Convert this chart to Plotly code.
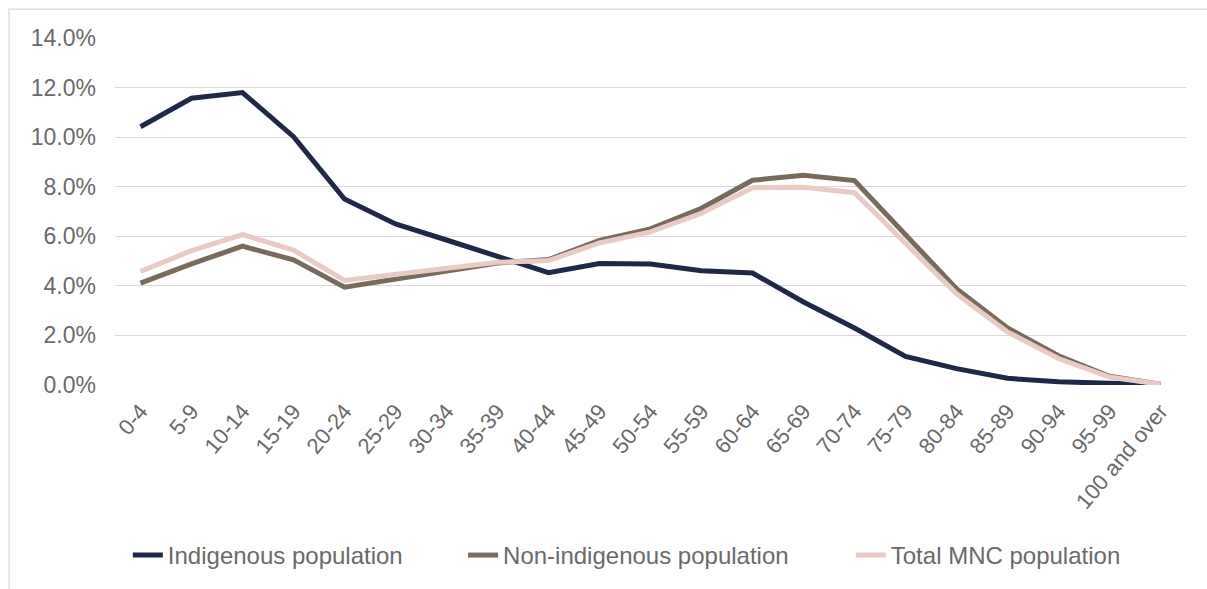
import plotly.graph_objects as go

age_groups = ["0-4", "5-9", "10-14", "15-19", "20-24", "25-29", "30-34", "35-39",
              "40-44", "45-49", "50-54", "55-59", "60-64", "65-69", "70-74", "75-79",
              "80-84", "85-89", "90-94", "95-99", "100 and over"]

indigenous = [10.42, 11.57, 11.80, 10.02, 7.50, 6.50, 5.85, 5.17, 4.53, 4.90, 4.88,
              4.61, 4.52, 3.35, 2.30, 1.15, 0.66, 0.27, 0.13, 0.07, 0.02]
non_indigenous = [4.11, 4.89, 5.60, 5.05, 3.95, 4.27, 4.62, 4.92, 5.06, 5.83, 6.30,
                  7.13, 8.26, 8.46, 8.25, 6.05, 3.88, 2.30, 1.18, 0.35, 0.03]
total_mnc = [4.58, 5.42, 6.07, 5.44, 4.22, 4.46, 4.72, 4.95, 5.02, 5.73, 6.18,
             6.93, 7.96, 7.98, 7.76, 5.70, 3.68, 2.14, 1.07, 0.32, 0.03]

# (name, values, colour, legend id, legend x in paper units)
series = [
    ("Indigenous population", indigenous, "#1F2847", "legend", 0.012),
    ("Non-indigenous population", non_indigenous, "#786B5B", "legend2", 0.325),
    ("Total MNC population", total_mnc, "#E9CBC5", "legend3", 0.687),
]

TEXT = "#6a6a6a"
GRID = "#D9D9D9"
FONT = "Liberation Sans, Arial, sans-serif"

fig = go.Figure()
legends = {}
for name, values, color, leg, lx in series:
    fig.add_trace(go.Scatter(
        x=age_groups, y=values, name=name, mode="lines",
        line=dict(color=color, width=5, shape="linear"),
        legend=leg,
    ))
    legends[leg] = dict(
        orientation="h", x=lx, xanchor="left", y=-0.487, yanchor="middle",
        font=dict(family=FONT, size=24, color=TEXT),
        itemwidth=30, bgcolor="rgba(0,0,0,0)",
    )

fig.update_layout(
    width=1207, height=589,
    margin=dict(l=115, r=21, t=38, b=203),
    paper_bgcolor="white", plot_bgcolor="white",
    font=dict(family=FONT, size=23, color=TEXT),
    showlegend=True,
    **legends,
    xaxis=dict(
        type="category", range=[-0.5, len(age_groups) - 0.5],
        tickangle=-50, showgrid=False, zeroline=False,
        showline=False, ticks="", ticklabelstandoff=8,
        tickfont=dict(size=22, color=TEXT),
    ),
    yaxis=dict(
        range=[0, 14], dtick=2, tickformat=".1f", ticksuffix="%",
        showgrid=True, gridcolor=GRID, gridwidth=1.3, zeroline=False,
        showline=False, ticks="", ticklabelstandoff=18,
        tickfont=dict(size=23, color=TEXT),
    ),
    shapes=[dict(
        type="rect", xref="paper", yref="paper",
        x0=-0.0989, x1=1.1, y0=-1.0, y1=1.0833,
        line=dict(color=GRID, width=1.3), fillcolor="rgba(0,0,0,0)", layer="below",
    )],
)

fig.write_html("out.html")
